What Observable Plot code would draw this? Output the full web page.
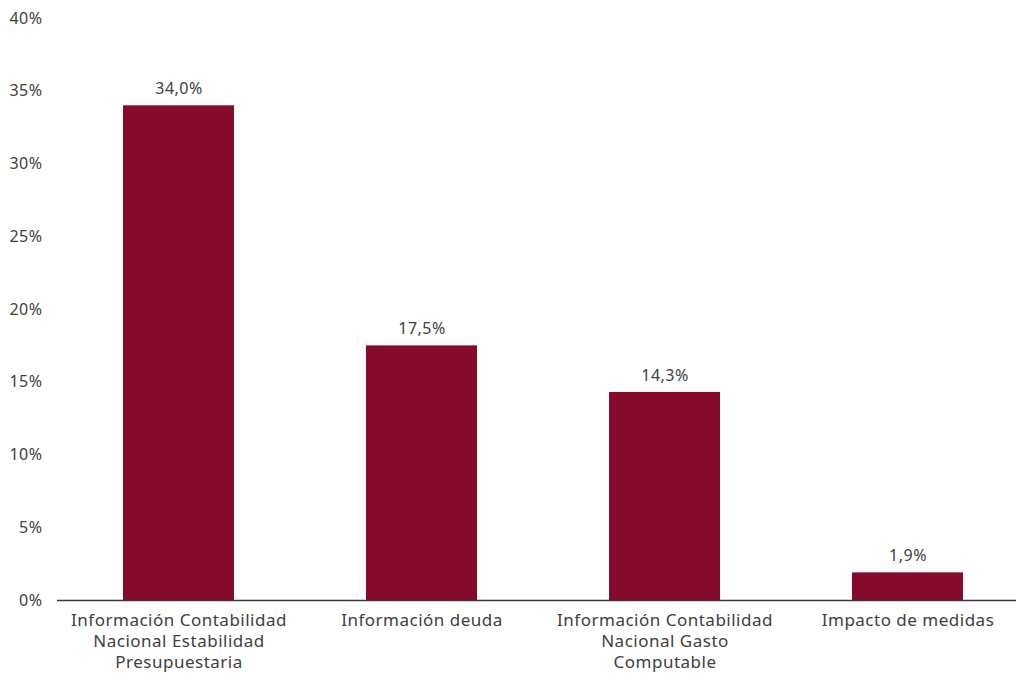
<!DOCTYPE html>
<html>
<head>
<meta charset="utf-8">
<script src="https://cdn.jsdelivr.net/npm/d3@7"></script>
<script src="https://cdn.jsdelivr.net/npm/@observablehq/plot@0.6"></script>
<style>
  html, body { margin: 0; padding: 0; background: #fff; overflow: hidden; }
  #chart { width: 1016px; height: 675px; overflow: hidden; }
  #chart svg { max-width: none !important; display: block; }
</style>
</head>
<body>
<div id="chart"></div>
<script>
const categories = [
  "Información Contabilidad Nacional Estabilidad Presupuestaria",
  "Información deuda",
  "Información Contabilidad Nacional Gasto Computable",
  "Impacto de medidas"
];
const tickLabels = [
  "Información Contabilidad\nNacional Estabilidad\nPresupuestaria",
  "Información deuda",
  "Información Contabilidad\nNacional Gasto\nComputable",
  "Impacto de medidas"
];
const values = [34.0, 17.5, 14.3, 1.9];
const yTicks = [0, 5, 10, 15, 20, 25, 30, 35, 40];

const data = categories.map((c, i) => ({cat: c, value: values[i]}));
const labelOf = new Map(categories.map((c, i) => [c, tickLabels[i]]));
const fmt = v => v.toFixed(1).replace(".", ",") + "%";

const FONT = "'Noto Sans', Lato, sans-serif";
const INK = "#404040";

const chart = Plot.plot({
  width: 1029,
  height: 675,
  marginLeft: 57,
  marginRight: 0,
  marginTop: 18,
  marginBottom: 75,
  style: {fontFamily: FONT, fontSize: "16px", color: INK, background: "#fff", letterSpacing: "0.5px"},
  x: {domain: categories, paddingInner: 0.543, paddingOuter: 0.2715, label: null},
  y: {domain: [0, 40], label: null},
  marks: [
    Plot.barY(data, {x: "cat", y: "value", fill: "#850A2B"}),
    Plot.ruleY([0], {stroke: "#3a3a3a", strokeWidth: 1.3}),
    Plot.text(data, {x: "cat", y: "value", text: d => fmt(d.value), dy: -17, fill: INK, fontSize: 16, fontFamily: FONT}),
    Plot.axisY({ticks: yTicks, tickFormat: d => d + "%", tickSize: 0, tickPadding: 15, fontSize: 16, fill: INK, label: null}),
    Plot.axisX({tickSize: 0, tickPadding: 10, tickFormat: d => labelOf.get(d), fontSize: 17, fill: INK, lineHeight: 1.25, label: null})
  ]
});
document.getElementById("chart").appendChild(chart);
</script>
</body>
</html>
